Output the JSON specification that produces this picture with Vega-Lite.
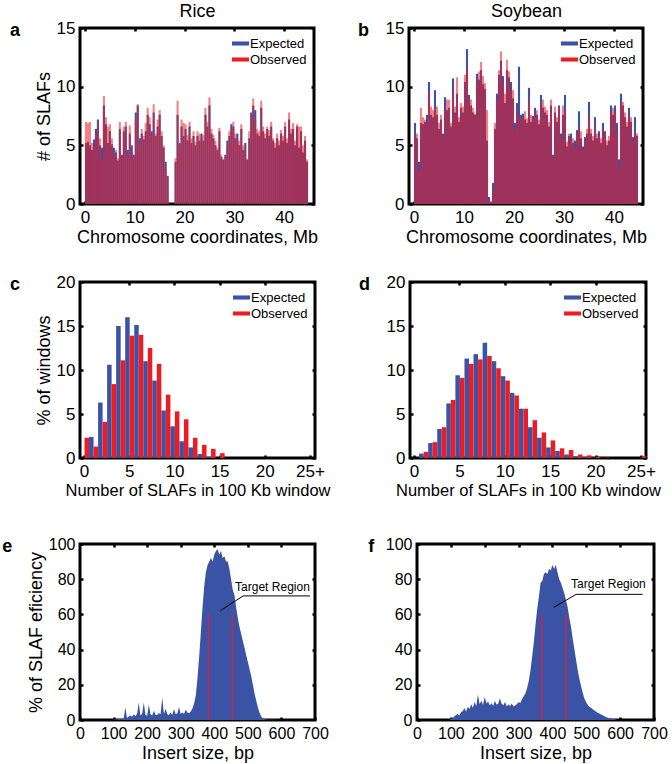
{
"$schema":"https://vega.github.io/schema/vega-lite/v6.json",
"background":"white",
"padding":{"left":0,"top":1,"right":0,"bottom":0},
"config":{
 "font":"Liberation Sans",
 "view":{"stroke":"black","strokeWidth":3},
 "axis":{"grid":false,"domain":false,"ticks":true,"tickColor":"black","tickSize":-3,"tickWidth":2.5,"labelColor":"black","titleColor":"black","labelFont":"Liberation Sans","titleFont":"Liberation Sans","labelFontSize":17,"titleFontSize":18,"titleFontWeight":"normal","labelPadding":8,"titlePadding":3,"labelOverlap":false,"labelFlush":false},
 "legend":{"orient":"top-right","title":null,"labelFont":"Liberation Sans","labelFontSize":13,"labelOffset":1,"symbolType":"M-1,-0.24H1V0.24H-1Z","symbolSize":289,"symbolOpacity":1,"symbolStrokeWidth":0,"padding":2,"offset":5,"rowPadding":-1,"labelColor":"black"},
 "title":{"orient":"left","angle":0,"anchor":"end","frame":"group","align":"right","baseline":"middle","fontSize":18,"fontWeight":"bold","offset":5,"dy":-6,"color":"black","font":"Liberation Sans"}
},
"datasets":{
"rice":[{"m":0.2,"e":5.2,"o":7.0},{"m":0.6,"e":5.3,"o":6.9},{"m":1.0,"e":5.0,"o":7.0},{"m":1.4,"e":4.6,"o":5.2},{"m":1.8,"e":5.5,"o":4.9},{"m":2.2,"e":6.4,"o":5.8},{"m":2.6,"e":7.2,"o":6.9},{"m":3.0,"e":5.0,"o":5.6},{"m":3.4,"e":4.8,"o":3.9},{"m":3.8,"e":8.4,"o":9.2},
{"m":4.2,"e":6.8,"o":7.4},{"m":4.6,"e":5.2,"o":6.6},{"m":5.0,"e":6.2,"o":6.8},{"m":5.4,"e":5.1,"o":5.6},{"m":5.8,"e":4.8,"o":4.2},{"m":6.2,"e":4.4,"o":4.6},{"m":6.6,"e":3.7,"o":3.9},{"m":7.0,"e":6.4,"o":7.0},{"m":7.4,"e":4.2,"o":4.0},{"m":7.8,"e":6.2,"o":6.6},
{"m":8.2,"e":6.6,"o":7.0},{"m":8.6,"e":4.6,"o":4.2},{"m":9.0,"e":6.0,"o":6.7},{"m":9.4,"e":5.0,"o":4.4},{"m":9.8,"e":4.2,"o":4.0},{"m":10.2,"e":7.8,"o":7.2},{"m":10.6,"e":8.4,"o":8.5},{"m":11.0,"e":5.6,"o":5.0},{"m":11.4,"e":6.0,"o":6.4},{"m":11.8,"e":5.5,"o":5.8},
{"m":12.2,"e":6.2,"o":6.9},{"m":12.6,"e":7.6,"o":8.2},{"m":13.0,"e":6.8,"o":7.4},{"m":13.4,"e":6.2,"o":6.0},{"m":13.8,"e":7.8,"o":8.5},{"m":14.2,"e":5.8,"o":6.0},{"m":14.6,"e":6.6,"o":7.2},{"m":15.0,"e":7.6,"o":8.0},{"m":15.4,"e":5.8,"o":6.2},{"m":15.8,"e":4.8,"o":5.0},
{"m":16.2,"e":3.6,"o":3.0},{"m":16.6,"e":2.4,"o":2.3},{"m":17.0,"e":0,"o":0},{"m":17.4,"e":0,"o":0},{"m":17.8,"e":0,"o":0},{"m":18.2,"e":3.6,"o":3.9},{"m":18.6,"e":7.6,"o":8.8},{"m":19.0,"e":5.2,"o":5.0},{"m":19.4,"e":6.6,"o":7.2},{"m":19.8,"e":5.8,"o":6.9},
{"m":20.2,"e":6.4,"o":6.8},{"m":20.6,"e":5.4,"o":5.9},{"m":21.0,"e":6.6,"o":7.0},{"m":21.4,"e":5.2,"o":5.6},{"m":21.8,"e":5.8,"o":6.2},{"m":22.2,"e":5.0,"o":5.3},{"m":22.6,"e":5.8,"o":6.2},{"m":23.0,"e":5.4,"o":6.0},{"m":23.4,"e":6.0,"o":5.6},{"m":23.8,"e":5.4,"o":5.9},
{"m":24.2,"e":7.6,"o":8.2},{"m":24.6,"e":6.6,"o":7.0},{"m":25.0,"e":8.4,"o":9.1},{"m":25.4,"e":6.0,"o":6.4},{"m":25.8,"e":5.6,"o":5.9},{"m":26.2,"e":5.0,"o":5.4},{"m":26.6,"e":4.6,"o":4.8},{"m":27.0,"e":6.2,"o":6.5},{"m":27.4,"e":4.0,"o":4.2},{"m":27.8,"e":3.8,"o":3.8},
{"m":28.2,"e":4.2,"o":4.0},{"m":28.6,"e":5.4,"o":5.0},{"m":29.0,"e":5.8,"o":6.2},{"m":29.4,"e":6.8,"o":6.4},{"m":29.8,"e":6.6,"o":7.0},{"m":30.2,"e":5.6,"o":6.0},{"m":30.6,"e":6.0,"o":5.5},{"m":31.0,"e":5.0,"o":5.4},{"m":31.4,"e":6.4,"o":6.8},{"m":31.8,"e":4.6,"o":5.0},
{"m":32.2,"e":5.2,"o":4.7},{"m":32.6,"e":3.8,"o":3.8},{"m":33.0,"e":5.6,"o":6.2},{"m":33.4,"e":7.8,"o":7.6},{"m":33.8,"e":8.4,"o":9.0},{"m":34.2,"e":8.0,"o":7.2},{"m":34.6,"e":6.0,"o":6.4},{"m":35.0,"e":5.8,"o":6.2},{"m":35.4,"e":8.2,"o":8.8},{"m":35.8,"e":6.2,"o":6.6},
{"m":36.2,"e":5.6,"o":6.0},{"m":36.6,"e":6.4,"o":6.6},{"m":37.0,"e":5.8,"o":6.3},{"m":37.4,"e":6.6,"o":7.0},{"m":37.8,"e":5.4,"o":5.6},{"m":38.2,"e":4.8,"o":5.2},{"m":38.6,"e":5.6,"o":6.0},{"m":39.0,"e":5.0,"o":5.4},{"m":39.4,"e":6.0,"o":6.3},{"m":39.8,"e":5.4,"o":5.8},
{"m":40.2,"e":6.6,"o":7.0},{"m":40.6,"e":5.2,"o":5.6},{"m":41.0,"e":7.2,"o":7.8},{"m":41.4,"e":6.0,"o":6.4},{"m":41.8,"e":6.4,"o":6.9},{"m":42.2,"e":5.0,"o":5.4},{"m":42.6,"e":6.6,"o":6.8},{"m":43.0,"e":4.8,"o":6.6},{"m":43.4,"e":6.2,"o":6.6},{"m":43.8,"e":4.4,"o":5.0},
{"m":44.2,"e":5.4,"o":5.8},{"m":44.6,"e":3.6,"o":3.8}],
"soy":[{"m":0.2,"e":6.9,"o":5.9},{"m":0.6,"e":5.6,"o":6.0},{"m":1.0,"e":3.6,"o":2.8},{"m":1.4,"e":6.9,"o":8.2},{"m":1.8,"e":6.8,"o":7.4},{"m":2.2,"e":7.0,"o":7.2},{"m":2.6,"e":7.6,"o":7.0},{"m":3.0,"e":10.4,"o":9.5},{"m":3.4,"e":7.6,"o":8.3},{"m":3.8,"e":7.4,"o":8.0},
{"m":4.2,"e":9.7,"o":8.2},{"m":4.6,"e":7.6,"o":8.3},{"m":5.0,"e":6.4,"o":6.9},{"m":5.4,"e":7.2,"o":7.6},{"m":5.8,"e":6.0,"o":5.8},{"m":6.2,"e":9.1,"o":8.0},{"m":6.6,"e":8.0,"o":8.9},{"m":7.0,"e":8.2,"o":8.9},{"m":7.4,"e":6.6,"o":6.9},{"m":7.8,"e":10.7,"o":9.6},
{"m":8.2,"e":7.8,"o":8.3},{"m":8.6,"e":9.4,"o":10.8},{"m":9.0,"e":7.0,"o":7.4},{"m":9.4,"e":8.2,"o":8.6},{"m":9.8,"e":7.8,"o":8.3},{"m":10.2,"e":10.4,"o":11.0},{"m":10.6,"e":13.2,"o":11.6},{"m":11.0,"e":9.3,"o":9.0},{"m":11.4,"e":8.4,"o":8.9},{"m":11.8,"e":7.8,"o":8.2},
{"m":12.2,"e":7.6,"o":7.7},{"m":12.6,"e":11.1,"o":10.4},{"m":13.0,"e":10.6,"o":11.3},{"m":13.4,"e":11.4,"o":12.1},{"m":13.8,"e":10.2,"o":10.9},{"m":14.2,"e":9.8,"o":10.3},{"m":14.6,"e":5.4,"o":8.0},{"m":15.0,"e":0.6,"o":0.4},{"m":15.4,"e":0.2,"o":0.2},{"m":15.8,"e":1.8,"o":1.2},
{"m":16.2,"e":6.4,"o":6.9},{"m":16.6,"e":9.4,"o":9.0},{"m":17.0,"e":11.0,"o":11.4},{"m":17.4,"e":12.2,"o":13.0},{"m":17.8,"e":10.9,"o":10.2},{"m":18.2,"e":8.6,"o":9.4},{"m":18.6,"e":11.4,"o":12.3},{"m":19.0,"e":10.8,"o":11.3},{"m":19.4,"e":10.4,"o":9.8},{"m":19.8,"e":9.0,"o":9.7},
{"m":20.2,"e":6.9,"o":6.4},{"m":20.6,"e":8.6,"o":8.0},{"m":21.0,"e":11.7,"o":7.4},{"m":21.4,"e":7.6,"o":7.4},{"m":21.8,"e":7.7,"o":7.2},{"m":22.2,"e":7.2,"o":7.9},{"m":22.6,"e":6.9,"o":7.3},{"m":23.0,"e":9.9,"o":8.8},{"m":23.4,"e":7.0,"o":7.6},{"m":23.8,"e":7.5,"o":7.2},
{"m":24.2,"e":8.2,"o":7.6},{"m":24.6,"e":7.6,"o":8.0},{"m":25.0,"e":6.8,"o":7.2},{"m":25.4,"e":9.3,"o":8.4},{"m":25.8,"e":8.2,"o":8.9},{"m":26.2,"e":7.8,"o":8.3},{"m":26.6,"e":7.6,"o":8.0},{"m":27.0,"e":6.6,"o":7.0},{"m":27.4,"e":8.4,"o":8.9},{"m":27.8,"e":4.2,"o":4.0},
{"m":28.2,"e":7.8,"o":8.3},{"m":28.6,"e":7.0,"o":7.4},{"m":29.0,"e":8.4,"o":8.2},{"m":29.4,"e":6.0,"o":5.6},{"m":29.8,"e":7.6,"o":8.4},{"m":30.2,"e":9.3,"o":7.8},{"m":30.6,"e":4.9,"o":5.3},{"m":31.0,"e":5.8,"o":6.0},{"m":31.4,"e":6.0,"o":5.4},{"m":31.8,"e":5.2,"o":5.6},
{"m":32.2,"e":5.4,"o":4.8},{"m":32.6,"e":6.3,"o":6.0},{"m":33.0,"e":7.9,"o":6.6},{"m":33.4,"e":5.6,"o":6.2},{"m":33.8,"e":4.9,"o":4.6},{"m":34.2,"e":5.7,"o":5.4},{"m":34.6,"e":6.0,"o":6.4},{"m":35.0,"e":8.7,"o":7.6},{"m":35.4,"e":6.0,"o":6.4},{"m":35.8,"e":5.4,"o":5.8},
{"m":36.2,"e":7.4,"o":6.6},{"m":36.6,"e":5.6,"o":6.0},{"m":37.0,"e":6.2,"o":5.8},{"m":37.4,"e":5.2,"o":5.6},{"m":37.8,"e":6.9,"o":6.4},{"m":38.2,"e":6.2,"o":6.0},{"m":38.6,"e":5.0,"o":5.4},{"m":39.0,"e":5.4,"o":5.8},{"m":39.4,"e":8.4,"o":7.8},{"m":39.8,"e":7.6,"o":8.2},
{"m":40.2,"e":8.4,"o":7.8},{"m":40.6,"e":6.9,"o":6.2},{"m":41.0,"e":3.8,"o":3.2},{"m":41.4,"e":9.4,"o":8.6},{"m":41.8,"e":8.4,"o":8.7},{"m":42.2,"e":7.4,"o":7.8},{"m":42.6,"e":6.6,"o":7.0},{"m":43.0,"e":8.2,"o":7.6},{"m":43.4,"e":7.0,"o":7.4},{"m":43.8,"e":5.7,"o":5.4},
{"m":44.2,"e":7.4,"o":6.2},{"m":44.6,"e":5.8,"o":6.0}],
"crice":[{"n":0,"e":0,"o":2.3},{"n":1,"e":2.4,"o":1.3},{"n":2,"e":6.3,"o":4.1},{"n":3,"e":10.6,"o":8.4},{"n":4,"e":15.0,"o":11.1},{"n":5,"e":16.0,"o":13.9},{"n":6,"e":15.1,"o":14.0},{"n":7,"e":11.0,"o":12.5},{"n":8,"e":8.8,"o":10.7},{"n":9,"e":5.4,"o":7.2},{"n":10,"e":3.6,"o":5.3},{"n":11,"e":1.9,"o":4.4},{"n":12,"e":1.2,"o":2.3},{"n":13,"e":0.45,"o":1.5},{"n":14,"e":0.1,"o":1.05},{"n":15,"e":0,"o":0.55},{"n":16,"e":0,"o":0},{"n":17,"e":0,"o":0},{"n":18,"e":0,"o":0},{"n":19,"e":0,"o":0},{"n":20,"e":0,"o":0},{"n":21,"e":0,"o":0},{"n":22,"e":0,"o":0},{"n":23,"e":0,"o":0},{"n":24,"e":0,"o":0},{"n":25,"e":0,"o":0}],
"csoy":[{"n":0,"e":0,"o":0},{"n":1,"e":0.5,"o":0.7},{"n":2,"e":1.7,"o":1.8},{"n":3,"e":3.3,"o":3.5},{"n":4,"e":6.2,"o":6.6},{"n":5,"e":9.4,"o":9.1},{"n":6,"e":11.3,"o":10.7},{"n":7,"e":11.8,"o":11.2},{"n":8,"e":13.1,"o":11.6},{"n":9,"e":11.0,"o":10.2},{"n":10,"e":9.3,"o":8.8},{"n":11,"e":7.4,"o":7.1},{"n":12,"e":5.6,"o":5.6},{"n":13,"e":3.5,"o":4.3},{"n":14,"e":2.3,"o":2.9},{"n":15,"e":1.2,"o":2.0},{"n":16,"e":0.8,"o":1.1},{"n":17,"e":0.4,"o":0.9},{"n":18,"e":0.2,"o":0.4},{"n":19,"e":0.1,"o":0.3},{"n":20,"e":0.05,"o":0.15},{"n":21,"e":0,"o":0.05},{"n":22,"e":0,"o":0},{"n":23,"e":0,"o":0},{"n":24,"e":0,"o":0},{"n":25,"e":0,"o":0.2}],
"irice":[{"bp":100,"v":0.3},{"bp":105,"v":0.4},{"bp":110,"v":0.3},{"bp":115,"v":0.5},{"bp":120,"v":0.4},{"bp":125,"v":0.5},{"bp":130,"v":0.6},{"bp":135,"v":7.2},{"bp":140,"v":1.2},{"bp":145,"v":2.0},{"bp":150,"v":2.6},{"bp":155,"v":1.8},{"bp":160,"v":3.2},{"bp":165,"v":2.2},{"bp":170,"v":3.5},{"bp":175,"v":9.8},{"bp":180,"v":2.6},{"bp":185,"v":3.4},{"bp":190,"v":10.0},{"bp":195,"v":3.0},{"bp":200,"v":2.4},{"bp":205,"v":8.6},{"bp":210,"v":3.2},{"bp":215,"v":2.6},{"bp":220,"v":5.2},{"bp":225,"v":3.0},{"bp":230,"v":2.8},{"bp":235,"v":4.0},{"bp":240,"v":3.2},{"bp":245,"v":12.6},{"bp":250,"v":3.4},{"bp":255,"v":6.4},{"bp":260,"v":3.2},{"bp":265,"v":2.8},{"bp":270,"v":4.2},{"bp":275,"v":3.0},{"bp":280,"v":6.2},{"bp":285,"v":3.2},{"bp":290,"v":3.8},{"bp":295,"v":7.4},{"bp":300,"v":3.4},{"bp":305,"v":4.2},{"bp":310,"v":3.6},{"bp":315,"v":5.8},{"bp":320,"v":4.2},{"bp":325,"v":3.8},{"bp":330,"v":4.8},{"bp":335,"v":6.5},{"bp":340,"v":9.5},{"bp":345,"v":14},{"bp":350,"v":24},{"bp":355,"v":36},{"bp":360,"v":50},{"bp":365,"v":64},{"bp":370,"v":76},{"bp":375,"v":84},{"bp":380,"v":88},{"bp":385,"v":90},{"bp":390,"v":92},{"bp":395,"v":90},{"bp":400,"v":94},{"bp":405,"v":96},{"bp":410,"v":97},{"bp":415,"v":94},{"bp":420,"v":96},{"bp":425,"v":92},{"bp":430,"v":93},{"bp":435,"v":90},{"bp":440,"v":90},{"bp":445,"v":86},{"bp":450,"v":80},{"bp":455,"v":74},{"bp":460,"v":71},{"bp":465,"v":64},{"bp":470,"v":58},{"bp":475,"v":53},{"bp":480,"v":49},{"bp":485,"v":45},{"bp":490,"v":41},{"bp":495,"v":37},{"bp":500,"v":33},{"bp":505,"v":29},{"bp":510,"v":25},{"bp":515,"v":20},{"bp":520,"v":15},{"bp":525,"v":11},{"bp":530,"v":7},{"bp":535,"v":4},{"bp":540,"v":2},{"bp":545,"v":0.8},{"bp":550,"v":0.4},{"bp":560,"v":0.2},{"bp":580,"v":0.1},{"bp":600,"v":0}],
"isoy":[{"bp":95,"v":0},{"bp":100,"v":0.5},{"bp":105,"v":1.2},{"bp":110,"v":2.0},{"bp":115,"v":2.8},{"bp":120,"v":3.4},{"bp":125,"v":2.6},{"bp":130,"v":4.5},{"bp":135,"v":5.0},{"bp":140,"v":6.8},{"bp":145,"v":4.8},{"bp":150,"v":7.5},{"bp":155,"v":6.2},{"bp":160,"v":9.0},{"bp":165,"v":7.0},{"bp":170,"v":10.2},{"bp":175,"v":8.0},{"bp":180,"v":14.5},{"bp":185,"v":9.0},{"bp":190,"v":11.0},{"bp":195,"v":8.6},{"bp":200,"v":13.0},{"bp":205,"v":9.4},{"bp":210,"v":10.5},{"bp":215,"v":8.2},{"bp":220,"v":9.6},{"bp":225,"v":8.0},{"bp":230,"v":11.0},{"bp":235,"v":8.6},{"bp":240,"v":9.4},{"bp":245,"v":12.4},{"bp":250,"v":9.2},{"bp":255,"v":8.4},{"bp":260,"v":10.2},{"bp":265,"v":7.8},{"bp":270,"v":8.8},{"bp":275,"v":8.0},{"bp":280,"v":9.4},{"bp":285,"v":7.6},{"bp":290,"v":8.4},{"bp":295,"v":9.0},{"bp":300,"v":10.2},{"bp":305,"v":9.6},{"bp":310,"v":11.6},{"bp":315,"v":13.5},{"bp":320,"v":15},{"bp":325,"v":18},{"bp":330,"v":22},{"bp":335,"v":28},{"bp":340,"v":36},{"bp":345,"v":44},{"bp":350,"v":54},{"bp":355,"v":63},{"bp":360,"v":70},{"bp":365,"v":78},{"bp":370,"v":79},{"bp":375,"v":83},{"bp":380,"v":84},{"bp":385,"v":83},{"bp":390,"v":86},{"bp":395,"v":85},{"bp":400,"v":88},{"bp":405,"v":86},{"bp":410,"v":88},{"bp":415,"v":84},{"bp":420,"v":80},{"bp":425,"v":78},{"bp":430,"v":75},{"bp":435,"v":72},{"bp":440,"v":68},{"bp":445,"v":64},{"bp":450,"v":58},{"bp":455,"v":53},{"bp":460,"v":46},{"bp":465,"v":40},{"bp":470,"v":34},{"bp":475,"v":28},{"bp":480,"v":23},{"bp":485,"v":19},{"bp":490,"v":15},{"bp":495,"v":12},{"bp":500,"v":10},{"bp":505,"v":8.4},{"bp":510,"v":7.4},{"bp":515,"v":6.8},{"bp":520,"v":6},{"bp":525,"v":5.2},{"bp":530,"v":4.6},{"bp":535,"v":4.0},{"bp":540,"v":3.6},{"bp":545,"v":3.0},{"bp":550,"v":2.5},{"bp":555,"v":2.0},{"bp":560,"v":1.6},{"bp":565,"v":1.2},{"bp":570,"v":1.0},{"bp":575,"v":0.7},{"bp":580,"v":0.5},{"bp":590,"v":0.2},{"bp":600,"v":0}]
},
"vconcat":[
 {"vconcat":[
  {"hconcat":[
   {"title":"a","width":234,"height":176,"data":{"name":"rice"},
    "resolve":{"axis":{"x":"independent","y":"independent"}},
    "layer":[
     {"mark":{"type":"bar","width":2.1},
      "encoding":{
       "x":{"field":"m","type":"quantitative","scale":{"domain":[0,45],"nice":false},"axis":{"orient":"bottom","values":[0,10,20,30,40],"title":"Chromosome coordinates, Mb"}},
       "y":{"field":"e","type":"quantitative","scale":{"domain":[0,15],"nice":false},"axis":{"orient":"left","values":[0,5,10,15],"title":"# of SLAFs"}},
       "color":{"datum":"Expected","scale":{"domain":["Expected","Observed"],"range":["#3a53a4","#ec1c24"]}}}},
     {"mark":{"type":"bar","width":2.1,"opacity":0.55},
      "encoding":{
       "x":{"field":"m","type":"quantitative","axis":{"orient":"top","labels":false,"values":[0,10,20,30,40],"title":"Rice","titlePadding":6}},
       "y":{"field":"o","type":"quantitative","axis":{"orient":"right","labels":false,"values":[0,5,10,15],"title":null}},
       "color":{"datum":"Observed"}}}
    ]},
   {"title":"b","width":234,"height":176,"data":{"name":"soy"},
    "resolve":{"axis":{"x":"independent","y":"independent"}},
    "layer":[
     {"mark":{"type":"bar","width":2.1,"clip":true},
      "encoding":{
       "x":{"field":"m","type":"quantitative","scale":{"domain":[0,44.8],"nice":false},"axis":{"orient":"bottom","values":[0,10,20,30,40],"title":"Chromosome coordinates, Mb"}},
       "y":{"field":"e","type":"quantitative","scale":{"domain":[0,15],"nice":false},"axis":{"orient":"left","values":[0,5,10,15],"title":null}},
       "color":{"datum":"Expected","scale":{"domain":["Expected","Observed"],"range":["#3a53a4","#ec1c24"]}}}},
     {"mark":{"type":"bar","width":2.1,"opacity":0.55,"clip":true},
      "encoding":{
       "x":{"field":"m","type":"quantitative","axis":{"orient":"top","labels":false,"values":[0,10,20,30,40],"title":"Soybean","titlePadding":6}},
       "y":{"field":"o","type":"quantitative","axis":{"orient":"right","labels":false,"values":[0,5,10,15],"title":null}},
       "color":{"datum":"Observed"}}}
    ]}
  ],"spacing":36,"resolve":{"scale":{"color":"independent"},"legend":{"color":"independent"}}},
  {"hconcat":[
   {"title":"c","width":235,"height":176,"data":{"name":"crice"},
    "resolve":{"axis":{"x":"independent","y":"independent"}},
    "layer":[
     {"mark":{"type":"bar"},
      "encoding":{
       "x":{"field":"n","type":"ordinal","scale":{"paddingInner":0,"paddingOuter":0},"axis":{"orient":"bottom","values":[0,5,10,15,20,25],"labelExpr":"datum.value == 25 ? '25+' : datum.label","labelAngle":0,"title":"Number of SLAFs in 100 Kb window","titleFontSize":16.5}},
       "xOffset":{"datum":"Expected","scale":{"domain":["Expected","Observed"],"paddingInner":0,"paddingOuter":0}},
       "y":{"field":"e","type":"quantitative","stack":null,"scale":{"domain":[0,20],"nice":false},"axis":{"orient":"left","values":[0,5,10,15,20],"title":"% of windows"}},
       "color":{"datum":"Expected","scale":{"domain":["Expected","Observed"],"range":["#3a53a4","#ec1c24"]}}}},
     {"mark":{"type":"bar"},
      "encoding":{
       "x":{"field":"n","type":"ordinal","axis":{"orient":"top","labels":false,"values":[5,10,15,20],"title":null}},
       "xOffset":{"datum":"Observed"},
       "y":{"field":"o","type":"quantitative","stack":null,"axis":{"orient":"right","labels":false,"values":[0,5,10,15,20],"title":null}},
       "color":{"datum":"Observed"}}}
    ]},
   {"title":"d","width":236,"height":176,"data":{"name":"csoy"},
    "resolve":{"axis":{"x":"independent","y":"independent"}},
    "layer":[
     {"mark":{"type":"bar"},
      "encoding":{
       "x":{"field":"n","type":"ordinal","scale":{"paddingInner":0,"paddingOuter":0},"axis":{"orient":"bottom","values":[0,5,10,15,20,25],"labelExpr":"datum.value == 25 ? '25+' : datum.label","labelAngle":0,"title":"Number of SLAFs in 100 Kb window","titleFontSize":16.5}},
       "xOffset":{"datum":"Expected","scale":{"domain":["Expected","Observed"],"paddingInner":0,"paddingOuter":0}},
       "y":{"field":"e","type":"quantitative","stack":null,"scale":{"domain":[0,20],"nice":false},"axis":{"orient":"left","values":[0,5,10,15,20],"title":null}},
       "color":{"datum":"Expected","scale":{"domain":["Expected","Observed"],"range":["#3a53a4","#ec1c24"]}}}},
     {"mark":{"type":"bar"},
      "encoding":{
       "x":{"field":"n","type":"ordinal","axis":{"orient":"top","labels":false,"values":[5,10,15,20],"title":null}},
       "xOffset":{"datum":"Observed"},
       "y":{"field":"o","type":"quantitative","stack":null,"axis":{"orient":"right","labels":false,"values":[0,5,10,15,20],"title":null}},
       "color":{"datum":"Observed"}}}
    ]}
  ],"spacing":25,"resolve":{"scale":{"color":"independent","xOffset":"independent"},"legend":{"color":"independent"}}}
 ],"spacing":23,"resolve":{"scale":{"color":"independent","xOffset":"independent"},"legend":{"color":"independent"}}},
 {"hconcat":[
  {"title":"e","width":235,"height":176,
   "resolve":{"axis":{"x":"independent","y":"independent"}},
   "layer":[
    {"data":{"name":"irice"},"mark":{"type":"area","color":"#3a53a4"},
     "encoding":{
      "x":{"field":"bp","type":"quantitative","scale":{"domain":[0,700],"nice":false},"axis":{"orient":"bottom","values":[0,100,200,300,400,500,600,700],"title":"Insert size, bp","labelFontSize":16}},
      "y":{"field":"v","type":"quantitative","scale":{"domain":[0,100],"nice":false},"axis":{"orient":"left","values":[0,20,40,60,80,100],"title":"% of SLAF eficiency","labelFontSize":16}}}},
    {"data":{"values":[{"bp":383,"v":60},{"bp":454,"v":60}]},"mark":{"type":"rule","color":"#c8264e","strokeWidth":1.5},
     "encoding":{
      "x":{"field":"bp","type":"quantitative","axis":{"orient":"top","labels":false,"values":[100,200,300,400,500,600],"title":null}},
      "y":{"field":"v","type":"quantitative","axis":{"orient":"right","labels":false,"values":[20,40,60,80],"title":null}},
      "y2":{"datum":0}}},
    {"data":{"values":[{"bp":417,"v":62},{"bp":486,"v":70.5},{"bp":685,"v":70.5}]},"mark":{"type":"line","color":"black","strokeWidth":1},
     "encoding":{"x":{"field":"bp","type":"quantitative","axis":null},"y":{"field":"v","type":"quantitative","axis":null}}},
    {"data":{"values":[{"bp":462,"v":75.6,"t":"Target Region"}]},"mark":{"type":"text","align":"left","baseline":"middle","fontSize":12,"font":"Liberation Sans","color":"black"},
     "encoding":{"x":{"field":"bp","type":"quantitative","axis":null},"y":{"field":"v","type":"quantitative","axis":null},"text":{"field":"t"}}}
   ]},
  {"title":"f","width":237,"height":176,
   "resolve":{"axis":{"x":"independent","y":"independent"}},
   "layer":[
    {"data":{"name":"isoy"},"mark":{"type":"area","color":"#3a53a4"},
     "encoding":{
      "x":{"field":"bp","type":"quantitative","scale":{"domain":[0,700],"nice":false},"axis":{"orient":"bottom","values":[0,100,200,300,400,500,600,700],"title":"Insert size, bp","labelFontSize":16}},
      "y":{"field":"v","type":"quantitative","scale":{"domain":[0,100],"nice":false},"axis":{"orient":"left","values":[0,20,40,60,80,100],"title":null,"labelFontSize":16}}}},
    {"data":{"values":[{"bp":368,"v":60},{"bp":440,"v":60}]},"mark":{"type":"rule","color":"#c8264e","strokeWidth":1.5},
     "encoding":{
      "x":{"field":"bp","type":"quantitative","axis":{"orient":"top","labels":false,"values":[100,200,300,400,500,600],"title":null}},
      "y":{"field":"v","type":"quantitative","axis":{"orient":"right","labels":false,"values":[20,40,60,80],"title":null}},
      "y2":{"datum":0}}},
    {"data":{"values":[{"bp":404,"v":64},{"bp":470,"v":71.4},{"bp":666,"v":71.4}]},"mark":{"type":"line","color":"black","strokeWidth":1},
     "encoding":{"x":{"field":"bp","type":"quantitative","axis":null},"y":{"field":"v","type":"quantitative","axis":null}}},
    {"data":{"values":[{"bp":455,"v":77.4,"t":"Target Region"}]},"mark":{"type":"text","align":"left","baseline":"middle","fontSize":12,"font":"Liberation Sans","color":"black"},
     "encoding":{"x":{"field":"bp","type":"quantitative","axis":null},"y":{"field":"v","type":"quantitative","axis":null},"text":{"field":"t"}}}
   ]}
 ],"spacing":36}
],
"spacing":34,
"resolve":{"scale":{"color":"independent","xOffset":"independent"},"legend":{"color":"independent"}}
}
